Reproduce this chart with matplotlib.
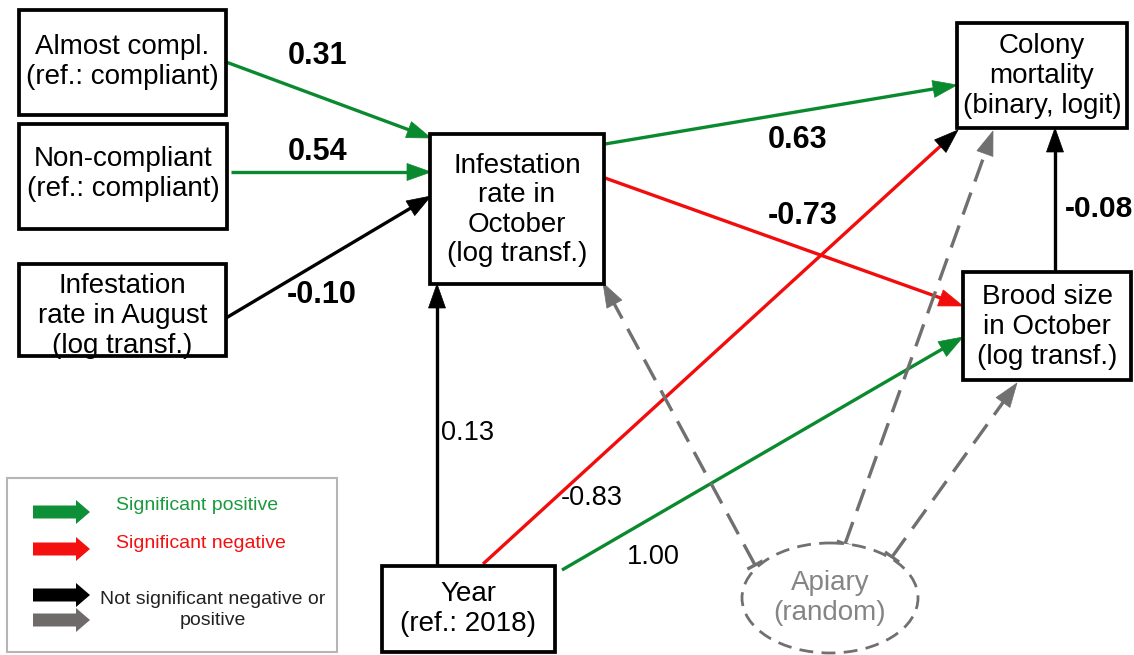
import numpy as np
import matplotlib
matplotlib.use("Agg")
import matplotlib.pyplot as plt
from matplotlib.patches import Rectangle, Ellipse, Polygon, FancyArrow

plt.rcParams['font.family'] = ['Liberation Sans', 'DejaVu Sans']

GREEN = "#0a8a2e"
RED = "#f20d0d"
BLACK = "#000000"
GREY = "#707070"

# node labels
node_names = ["almost", "noncomp", "aug", "oct", "mort", "brood", "year"]
node_labels = ["Almost compl.\n(ref.: compliant)",
               "Non-compliant\n(ref.: compliant)",
               "Infestation\nrate in August\n(log transf.)",
               "Infestation\nrate in\nOctober\n(log transf.)",
               "Colony\nmortality\n(binary, logit)",
               "Brood size\nin October\n(log transf.)",
               "Year\n(ref.: 2018)"]

# path coefficients
coef_labels = ["0.31", "0.54", "-0.10", "0.63", "-0.73", "0.13", "-0.83", "1.00", "-0.08"]
coef_significant = [True, True, True, True, True, False, False, False, True]  # bold ones
edge_colors = [GREEN, GREEN, BLACK, GREEN, RED, BLACK, RED, GREEN, BLACK]

legend_labels = ["Significant positive", "Significant negative",
                 "Not significant negative or\npositive"]

# layout (pixels)
boxes = {
    "almost": (19, 10, 226, 115),
    "noncomp": (19, 124, 227, 229),
    "aug": (19, 264, 226, 356),
    "oct": (430, 134, 604, 284),
    "mort": (957, 23, 1127, 128),
    "brood": (963, 272, 1131, 380),
    "year": (382, 566, 555, 652),
}
text_y = {"almost": 62, "noncomp": 174, "aug": 316, "oct": 210,
          "mort": 76, "brood": 327, "year": 609}

edges = [((226, 62), (431, 138)),
         ((231, 172), (431, 172)),
         ((226, 318), (431, 196)),
         ((605, 144), (957, 85)),
         ((605, 178), (963, 306)),
         ((437, 566), (437, 284)),
         ((483, 564), (958, 130)),
         ((562, 570), (963, 337)),
         ((1055, 272), (1055, 128))]
label_pos = [(318, 56), (318, 152), (322, 295), (798, 140), (803, 216),
             (468, 433), (592, 498), (653, 557), (1065, 209)]

random_edges = [((755, 565), (603, 283)),
                ((845, 544), (993, 131)),
                ((892, 557), (1017, 383))]

fig = plt.figure(figsize=(11.34, 6.55), dpi=100)
ax = fig.add_axes([0, 0, 1, 1])
ax.set_xlim(0, 1134)
ax.set_ylim(655, 0)
ax.axis("off")


def arrow(p0, p1, color, head_color=None, dashed=False, hl=24, hw=17, tbar=False):
    p0 = np.array(p0, float)
    p1 = np.array(p1, float)
    u = (p1 - p0) / np.linalg.norm(p1 - p0)
    n = np.array([-u[1], u[0]])
    base = p1 - u * hl
    ls = (0, (7, 3.5)) if dashed else "-"
    ax.plot([p0[0], base[0] + u[0] * 2], [p0[1], base[1] + u[1] * 2],
            color=color, lw=2.4, ls=ls, solid_capstyle="butt", zorder=2)
    hc = head_color or color
    ax.add_patch(Polygon([p1, base + n * hw / 2, base - n * hw / 2],
                         closed=True, fc=hc, ec=hc, lw=0.5, zorder=3))
    if tbar:
        a, b = p0 + n * 7, p0 - n * 7
        ax.plot([a[0], b[0]], [a[1], b[1]], color=color, lw=2.4, zorder=2)


for (p0, p1), col in zip(edges, edge_colors):
    hc = BLACK if (col == RED and p1[0] == 958) else None
    arrow(p0, p1, col, head_color=hc)

for p0, p1 in random_edges:
    arrow(p0, p1, GREY, dashed=True, tbar=True)

for lab, (x, y), bold in zip(coef_labels, label_pos, coef_significant):
    if lab == "-0.08":
        ax.text(x, y, lab, ha="left", va="center", fontsize=21.5,
                fontweight="bold", zorder=5)
    else:
        ax.text(x, y, lab, ha="center", va="center",
                fontsize=22 if bold else 19.5,
                fontweight="bold" if bold else "normal", zorder=5)

for name, lab in zip(node_names, node_labels):
    x0, y0, x1, y1 = boxes[name]
    ax.add_patch(Rectangle((x0, y0), x1 - x0, y1 - y0, fc="white", ec="black",
                           lw=2.7, zorder=4))
    ax.text((x0 + x1) / 2, text_y[name], lab, ha="center", va="center",
            fontsize=20, linespacing=1.18, zorder=5)

# random effect node
ax.add_patch(Ellipse((830, 598), 176, 110, fc="white", ec=GREY, lw=2,
                     ls=(0, (5, 3)), zorder=4))
ax.text(830, 598, "Apiary\n(random)", ha="center", va="center", fontsize=20,
        color="#858585", linespacing=1.15, zorder=5)

# legend
ax.add_patch(Rectangle((7, 478), 330, 174, fc="white", ec="#b5b5b5", lw=1.5,
                       zorder=4))
leg_arrows = [(512, "#0e9038"), (549, "#f51010"), (595, "#000000"), (620, "#6e6a6a")]
for y, c in leg_arrows:
    ax.add_patch(FancyArrow(33, y, 43, 0, width=13, head_width=24, head_length=14,
                            length_includes_head=False, fc=c, ec=c, lw=0, zorder=5))
ax.text(116, 506, legend_labels[0], color="#1a9a3c", fontsize=14, va="center",
        ha="left", zorder=6)
ax.text(116, 543, legend_labels[1], color="#f51010", fontsize=14, va="center",
        ha="left", zorder=6)
ax.text(213, 610, legend_labels[2], color="#222222", fontsize=14, va="center",
        ha="center", linespacing=1.3, zorder=6)

fig.savefig("out.png", dpi=100)
